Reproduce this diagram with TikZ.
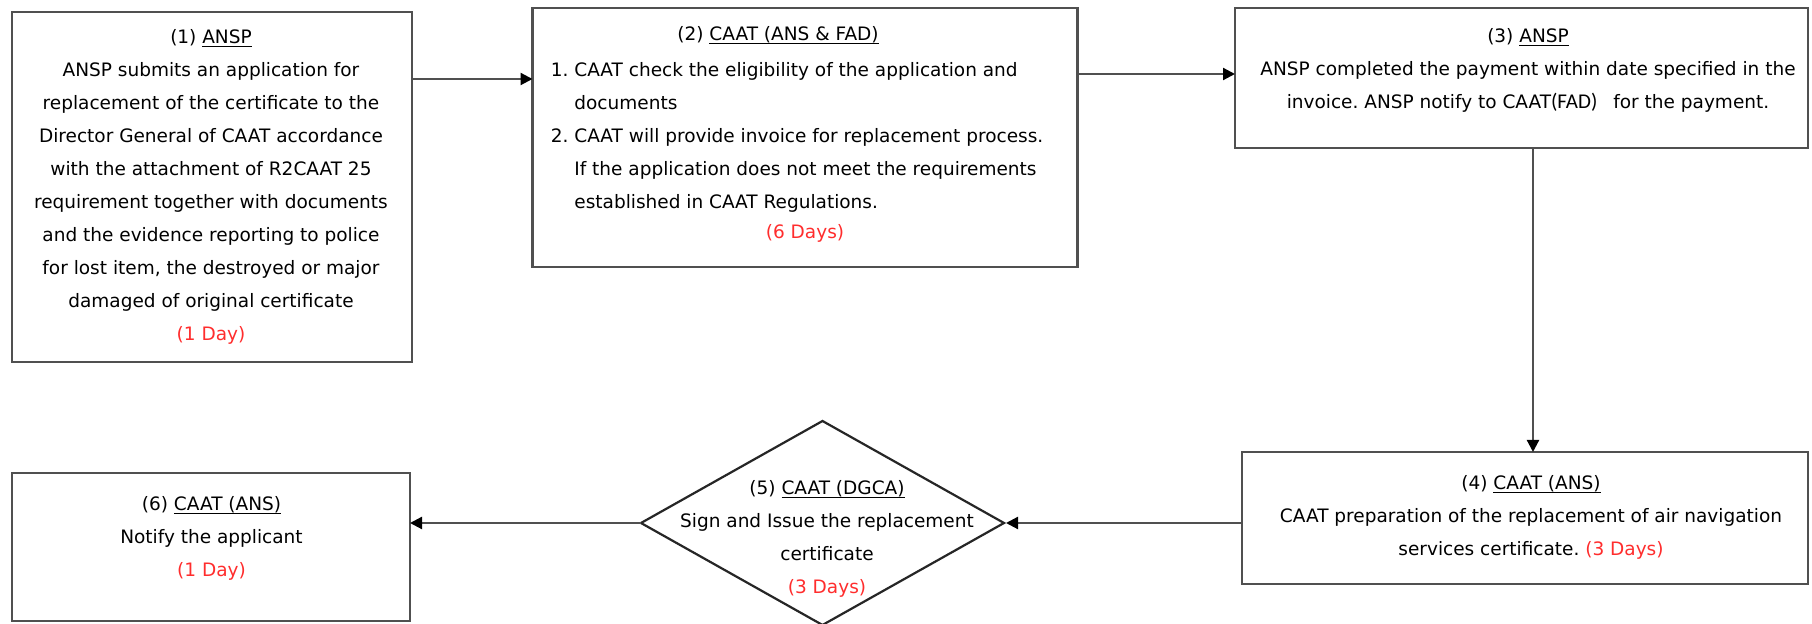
\documentclass[tikz,border=0pt]{standalone}
\usepackage{fontspec}
\setmainfont{DejaVu Sans}
\newfontfamily\calfont{Carlito}
\usetikzlibrary{arrows.meta,shapes.geometric}
\definecolor{dayred}{RGB}{255,45,45}
\definecolor{linegray}{RGB}{80,80,80}
\newcommand\ulx[1]{\setbox0\hbox{#1}\rlap{\rule[-1.9pt]{\wd0}{0.6pt}}\box0}
\newcommand\dayr[1]{\textcolor{dayred}{#1}}
\frenchspacing
\begin{document}
\begin{tikzpicture}[x=0.5pt,y=-0.5pt,
  box/.style={draw=linegray, line width=1.1pt, inner sep=0pt, outer sep=0pt, fill=white},
  dia/.style={draw=black!85, line width=1.1pt, diamond, inner sep=0pt, outer sep=0pt, fill=white},
  txt/.style={align=center, inner sep=0pt, text=black, font=\fontsize{9.25pt}{16.5pt}\selectfont\frenchspacing},
  ltxt/.style={align=left, inner sep=0pt, text=black, font=\fontsize{9.25pt}{16.5pt}\selectfont\frenchspacing},
  conn/.style={draw=linegray, line width=1.1pt, -{Triangle[length=6pt,width=6pt,color=black]}}
]
\useasboundingbox[fill=white] (0,0) rectangle (1812,624);

% boxes
\node[box, minimum width=200pt, minimum height=175pt] (b1) at (212,187) {};
\node[box, minimum width=272.5pt, minimum height=129.5pt] (b2) at (805,137.5) {};
\node[box, minimum width=286.5pt, minimum height=70pt] (b3) at (1521.5,78) {};
\node[box, minimum width=283pt, minimum height=66pt] (b4) at (1525,518) {};
\node[dia, minimum width=181.5pt, minimum height=102pt] (d5) at (822.5,523) {};
\node[box, minimum width=199pt, minimum height=74pt] (b6) at (211,547) {};

% texts
\node[txt] (t1) at (211,186.5) {(1) \ulx{ANSP}\\
ANSP submits an application for\\
replacement of the certificate to the\\
Director General of CAAT accordance\\
with the attachment of R2CAAT 25\\
requirement together with documents\\
and the evidence reporting to police\\
for lost item, the destroyed or major\\
damaged of original certificate\\
\dayr{(1 Day)}};

\node[txt] (t2a) at (778,35) {(2) \ulx{CAAT (ANS \& FAD)}};
\node[ltxt, anchor=west] (t2b) at (574,137) {\llap{1.\ }CAAT check the eligibility of the application and\\
documents\\
\llap{2.\ }CAAT will provide invoice for replacement process.\\
If the application does not meet the requirements\\
established in CAAT Regulations.};
\node[txt] (t2c) at (805,233) {\dayr{(6 Days)}};

\node[txt] (t3) at (1528,70) {(3) \ulx{ANSP}\\
ANSP completed the payment within date specified in the\\
invoice. ANSP notify to CAAT{\calfont\fontsize{10.5pt}{16.5pt}\selectfont (FAD)}\hspace{8pt}for the payment.};

\node[txt] (t4) at (1531,517) {(4) \ulx{CAAT (ANS)}\\
CAAT preparation of the replacement of air navigation\\
services certificate. \dayr{(3 Days)}};

\node[txt] (t5) at (827,538.5) {(5) \ulx{CAAT (DGCA)}\\
Sign and Issue the replacement\\
certificate\\
\dayr{(3 Days)}};

\node[txt] (t6) at (211.5,538) {(6) \ulx{CAAT (ANS)}\\
Notify the applicant\\
\dayr{(1 Day)}};

% connectors
\coordinate (y12) at (0,79);
\coordinate (y23) at (0,74);
\coordinate (x34) at (1533,0);
\draw[conn] (b1.east |- y12) -- (b2.west |- y12);
\draw[conn] (b2.east |- y23) -- (b3.west |- y23);
\draw[conn] (b3.south -| x34) -- (b4.north -| x34);
\draw[conn, shorten >=1pt] (b4.west |- d5.east) -- (d5.east);
\draw[conn] (d5.west) -- (b6.east |- d5.west);
\end{tikzpicture}
\end{document}
